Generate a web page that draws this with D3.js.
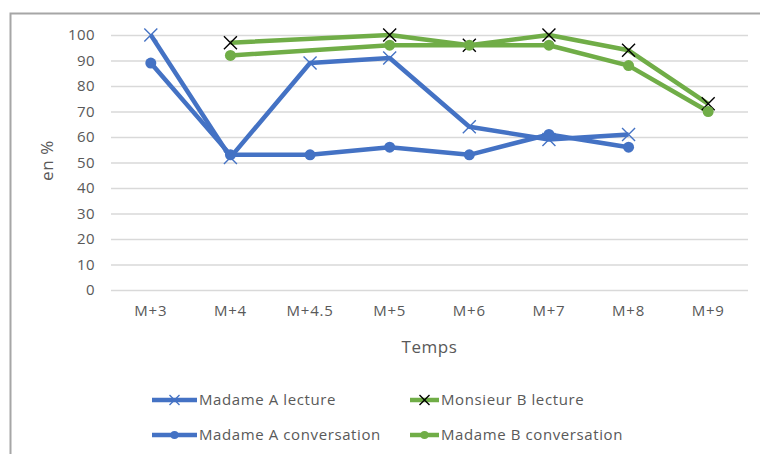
<!DOCTYPE html>
<html>
<head>
<meta charset="utf-8">
<script src="https://cdnjs.cloudflare.com/ajax/libs/d3/7.8.5/d3.min.js"></script>
<style>
  body { margin: 0; background: #fff; }
  text { font-family: "Open Sans", sans-serif; fill: #595959; }
</style>
</head>
<body>
<div id="chart"></div>
<script>
var categories = ["M+3", "M+4", "M+4.5", "M+5", "M+6", "M+7", "M+8", "M+9"];
var yTicks = [0, 10, 20, 30, 40, 50, 60, 70, 80, 90, 100];

var madameALecture = [100, 52, 89, 91, 64, 59, 61, null];
var madameAConversation = [89, 53, 53, 56, 53, 61, 56, null];
var monsieurBLecture = [null, 97, null, 100, 96, 100, 94, 73];
var madameBConversation = [null, 92, null, 96, 96, 96, 88, 70];

var blue = "#4472c4", green = "#70ad47";

var series = [
  {name: "Madame A lecture", values: madameALecture, color: blue, marker: "x", mcolor: blue},
  {name: "Madame A conversation", values: madameAConversation, color: blue, marker: "dot", mcolor: blue},
  {name: "Monsieur B lecture", values: monsieurBLecture, color: green, marker: "x", mcolor: "#000"},
  {name: "Madame B conversation", values: madameBConversation, color: green, marker: "dot", mcolor: green}
];

var W = 760, H = 454;
var margin = {top: 35, right: 12, bottom: 164, left: 111};
var w = W - margin.left - margin.right;
var h = H - margin.top - margin.bottom;

var root = d3.select("#chart").append("svg")
  .attr("width", W)
  .attr("height", H);

// outer frame
root.append("path")
  .attr("d", "M10.5," + H + "V13.5H" + W)
  .attr("fill", "none")
  .attr("stroke", "#a6a6a6")
  .attr("stroke-width", 2);

var svg = root.append("g")
  .attr("transform", "translate(" + margin.left + "," + margin.top + ")");

var x = d3.scaleBand()
  .domain(categories)
  .range([0, w]);

var y = d3.scaleLinear()
  .domain([0, 100])
  .range([h, 0]);

// gridlines
svg.selectAll(".grid")
  .data(yTicks)
  .enter()
  .append("line")
  .attr("x1", 0)
  .attr("x2", w)
  .attr("y1", function(d) { return y(d) + 0.5; })
  .attr("y2", function(d) { return y(d) + 0.5; })
  .attr("stroke", "#d9d9d9")
  .attr("stroke-width", 1.3);

var yAxis = d3.axisLeft(y).tickValues(yTicks).tickSize(0).tickPadding(16);
svg.append("g")
  .call(yAxis)
  .call(function(g) { g.select(".domain").remove(); })
  .selectAll("text")
  .style("font-size", "15px")
  .style("letter-spacing", "0.4px")
  .attr("fill", "#595959");

var xAxis = d3.axisBottom(x).tickSize(0).tickPadding(15);
svg.append("g")
  .attr("transform", "translate(0," + h + ")")
  .call(xAxis)
  .call(function(g) { g.select(".domain").remove(); })
  .selectAll("text")
  .style("font-size", "15px")
  .style("letter-spacing", "0.8px")
  .attr("fill", "#595959");

svg.append("text")
  .attr("transform", "rotate(-90)")
  .attr("x", 0 - (h / 2) + 2)
  .attr("y", 47 - margin.left)
  .attr("dy", "0.35em")
  .style("text-anchor", "middle")
  .style("font-size", "17px")
  .style("letter-spacing", "0.6px")
  .text("en %");

svg.append("text")
  .attr("x", w / 2)
  .attr("y", h + 57)
  .attr("dy", "0.35em")
  .style("text-anchor", "middle")
  .style("font-size", "17px")
  .style("letter-spacing", "0.6px")
  .text("Temps");

function cx(i) { return x(categories[i]) + x.bandwidth() / 2; }

var line = d3.line()
  .defined(function(d) { return d.v != null; })
  .x(function(d) { return cx(d.i); })
  .y(function(d) { return y(d.v); });

function drawMarker(g, type, color, px, py, s) {
  if (type === "x") {
    g.append("path")
      .attr("d", "M" + (px - s) + "," + (py - s) + "L" + (px + s) + "," + (py + s) +
                 "M" + (px - s) + "," + (py + s) + "L" + (px + s) + "," + (py - s))
      .attr("stroke", color)
      .attr("stroke-width", 1.4)
      .attr("fill", "none");
  } else {
    g.append("circle")
      .attr("cx", px)
      .attr("cy", py)
      .attr("r", s - 1)
      .attr("fill", color);
  }
}

series.forEach(function(s) {
  var pts = s.values.map(function(v, i) { return {v: v, i: i}; });
  var valid = pts.filter(function(d) { return d.v != null; });
  svg.append("path")
    .datum(valid)
    .attr("fill", "none")
    .attr("stroke", s.color)
    .attr("stroke-width", 4.5)
    .attr("stroke-linejoin", "round")
    .attr("d", line);
});

series.forEach(function(s) {
  var g = svg.append("g");
  s.values.forEach(function(v, i) {
    if (v == null) return;
    drawMarker(g, s.marker, s.mcolor, cx(i), y(v), 6.5);
  });
});

// legend: two columns, two rows
var legendOrder = [0, 2, 1, 3];
var legendX = [152, 410, 152, 410];
var legendY = [400, 400, 435, 435];
var lg = root.append("g");
legendOrder.forEach(function(si, k) {
  var s = series[si];
  var len = si >= 2 ? 29 : 45;
  var sx = legendX[k];
  var py = legendY[k];
  lg.append("line")
    .attr("x1", sx)
    .attr("x2", sx + len)
    .attr("y1", py)
    .attr("y2", py)
    .attr("stroke", s.color)
    .attr("stroke-width", 4.5);
  drawMarker(lg, s.marker, s.mcolor, sx + len / 2, py, 5);
  lg.append("text")
    .attr("x", sx + len + 2)
    .attr("y", py)
    .attr("dy", "0.35em")
    .style("font-size", "15px")
    .style("letter-spacing", "0.6px")
    .text(s.name);
});
</script>
</body>
</html>
